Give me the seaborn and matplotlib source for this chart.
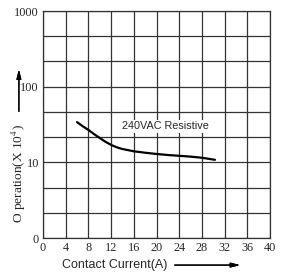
import numpy as np
import pandas as pd
import seaborn as sns
import matplotlib.pyplot as plt

# Data (240VAC resistive)
current = [6, 7, 8, 9, 10, 11, 12, 13, 14, 16, 18, 20, 22, 24, 26, 28, 30.3]
operations = [34, 30, 26.8, 23.6, 21, 18.7, 17, 15.8, 15, 14, 13.4, 12.9, 12.5, 12.2, 11.9, 11.5, 10.8]

x_ticks = [0, 4, 8, 12, 16, 20, 24, 28, 32, 36, 40]
y_ticks = [1, 10, 100, 1000]
y_tick_labels = ["0", "10", "100", "1000"]

sns.set_style("white")
plt.rcParams['mathtext.fontset'] = 'stix'

df = pd.DataFrame({"current": current, "ops": operations})

fig = plt.figure(figsize=(2.82, 2.75), dpi=100)
ax = fig.add_axes([0.1525, 0.1345, 0.805, 0.8255])

sns.lineplot(data=df, x="current", y="ops", ax=ax, color="black", linewidth=1.6)

ax.set_yscale("log")
ax.set_xlim(0, 40)
ax.set_ylim(1, 1000)
ax.set_xticks(x_ticks)
ax.set_xticklabels([str(t) for t in x_ticks], family="Liberation Serif", fontsize=8.8)
ax.set_yticks(y_ticks)
ax.set_yticklabels(y_tick_labels, family="Liberation Serif", fontsize=8.8)
minor = [10 ** (k / 3) for k in range(1, 9) if k % 3 != 0]
ax.set_yticks(minor, minor=True)
ax.yaxis.set_minor_formatter(plt.NullFormatter())
ax.tick_params(axis="both", which="both", length=0, pad=3)

ax.grid(True, which="both", color="#333333", linewidth=0.9)
ax.set_axisbelow(True)
for s in ax.spines.values():
    s.set_color("#333333")
    s.set_linewidth(0.9)
ax.set_xlabel("")
ax.set_ylabel("")

ax.text(13.9, 30, "240VAC Resistive", fontsize=7.8, family="Liberation Sans",
        va="center", ha="left",
        bbox=dict(facecolor="white", edgecolor="none", pad=1.0))

# axis titles with arrows
fig.text(0.067, 0.369, "O peration(X 10$^4$)", rotation=90, ha="center", va="center",
         family="Liberation Serif", fontsize=9.6)
fig.add_artist(plt.annotate("", xy=(0.067, 0.758), xytext=(0.067, 0.585),
                            xycoords="figure fraction", textcoords="figure fraction",
                            arrowprops=dict(arrowstyle="-|>,head_length=0.6,head_width=0.15",
                                            color="black", lw=0.9, mutation_scale=9)))
fig.text(0.22, 0.036, "Contact Current(A)", ha="left", va="center",
         family="Liberation Sans", fontsize=9)
fig.add_artist(plt.annotate("", xy=(0.862, 0.036), xytext=(0.61, 0.036),
                            xycoords="figure fraction", textcoords="figure fraction",
                            arrowprops=dict(arrowstyle="-|>,head_length=0.6,head_width=0.15",
                                            color="black", lw=0.9, mutation_scale=9)))

fig.savefig("out.png", dpi=100)
